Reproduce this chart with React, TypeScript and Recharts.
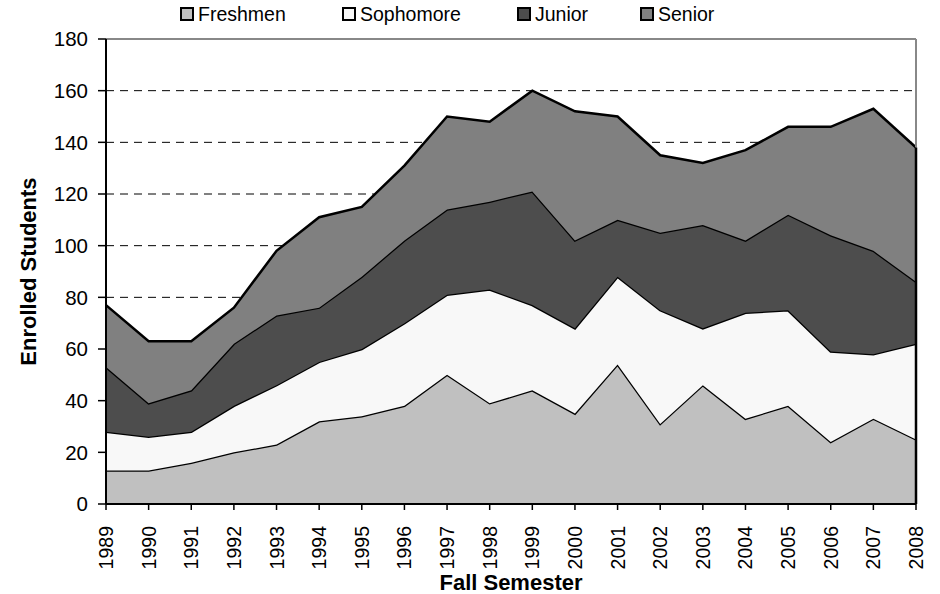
import React from "react";
import { Area, AreaChart, CartesianGrid, ReferenceLine, XAxis, YAxis } from "recharts";

const years = [
    "1989", "1990", "1991", "1992", "1993", "1994", "1995", "1996", "1997", "1998",
    "1999", "2000", "2001", "2002", "2003", "2004", "2005", "2006", "2007", "2008",
];
const freshmen = [13, 13, 16, 20, 23, 32, 34, 38, 50, 39, 44, 35, 54, 31, 46, 33, 38, 24, 33, 25];
const sophomore = [15, 13, 12, 18, 23, 23, 26, 32, 31, 44, 33, 33, 34, 44, 22, 41, 37, 35, 25, 37];
const junior = [25, 13, 16, 24, 27, 21, 28, 32, 33, 34, 44, 34, 22, 30, 40, 28, 37, 45, 40, 24];
const senior = [24, 24, 19, 14, 25, 35, 27, 29, 36, 31, 39, 50, 40, 30, 24, 35, 34, 42, 55, 52];
const yTicks = [0, 20, 40, 60, 80, 100, 120, 140, 160, 180];

const series = [
    { key: "Freshmen", fill: "#c0c0c0" },
    { key: "Sophomore", fill: "#f8f8f8" },
    { key: "Junior", fill: "#4d4d4d" },
    { key: "Senior", fill: "#808080" },
];

const data = years.map((year, i) => ({
    year,
    Freshmen: freshmen[i],
    Sophomore: sophomore[i],
    Junior: junior[i],
    Senior: senior[i],
}));

const lastIdx = years.length - 1;
const lastTotal = freshmen[lastIdx] + sophomore[lastIdx] + junior[lastIdx] + senior[lastIdx];

const FONT = "'Liberation Sans', Arial, sans-serif";

function XTick(props: any) {
    const { x, y, payload } = props;
    const ty = y + 14;
    return (
        <text
            x={x}
            y={ty}
            transform={`rotate(-90, ${x}, ${ty})`}
            textAnchor="end"
            dominantBaseline="central"
            fontSize={19.5}
            fontFamily={FONT}
            fill="#000"
        >
            {payload.value}
        </text>
    );
}

export default function App() {
    return (
        <div style={{ position: "absolute", left: 0, top: 0, width: 940, height: 594, background: "#fff", fontFamily: FONT }}>
            <div style={{ position: "absolute", top: 2, left: 0, width: 940, height: 24 }}>
                {series.map((s, i) => (
                    <div
                        key={s.key}
                        style={{
                            position: "absolute",
                            left: [180, 342, 517, 640][i],
                            top: 0,
                            display: "flex",
                            alignItems: "center",
                            fontSize: 19.5,
                            lineHeight: "24px",
                            color: "#000",
                        }}
                    >
                        <span
                            style={{
                                display: "inline-block",
                                width: 10,
                                height: 10,
                                border: "2px solid #000",
                                background: s.fill,
                                marginRight: 4,
                            }}
                        />
                        {s.key}
                    </div>
                ))}
            </div>
            <AreaChart
                width={940}
                height={594}
                data={data}
                margin={{ top: 39, right: 24, left: 0, bottom: 0 }}
                style={{ position: "absolute", left: 0, top: 0 }}
            >
                <CartesianGrid
                    horizontal
                    vertical={false}
                    stroke="#000"
                    strokeDasharray="8 6"
                    strokeWidth={1}
                />
                <XAxis
                    dataKey="year"
                    height={90}
                    interval={0}
                    tick={<XTick />}
                    tickLine={{ stroke: "#000", strokeWidth: 1.5 }}
                    tickSize={6}
                    axisLine={{ stroke: "#000", strokeWidth: 2 }}
                    label={{
                        content: (p: any) => (
                            <text
                                x={p.viewBox.x + p.viewBox.width / 2}
                                y={p.viewBox.y + 86}
                                textAnchor="middle"
                                fontSize={22}
                                fontWeight="bold"
                                fontFamily={FONT}
                                fill="#000"
                            >
                                Fall Semester
                            </text>
                        ),
                    }}
                />
                <YAxis
                    width={106}
                    domain={[0, 180]}
                    ticks={yTicks}
                    interval={0}
                    tick={{ fontSize: 20.5, fill: "#000", fontFamily: FONT, dx: -8 }}
                    tickLine={{ stroke: "#000", strokeWidth: 1.5 }}
                    tickSize={8}
                    axisLine={{ stroke: "#000", strokeWidth: 2 }}
                    label={{
                        content: (p: any) => {
                            const cx = 28;
                            const cy = p.viewBox.y + p.viewBox.height / 2;
                            return (
                                <text
                                    x={cx}
                                    y={cy}
                                    transform={`rotate(-90, ${cx}, ${cy})`}
                                    textAnchor="middle"
                                    dominantBaseline="central"
                                    fontSize={22}
                                    fontWeight="bold"
                                    fontFamily={FONT}
                                    fill="#000"
                                >
                                    Enrolled Students
                                </text>
                            );
                        },
                    }}
                />
                {series.map((s) => (
                    <Area
                        key={s.key}
                        type="linear"
                        dataKey={s.key}
                        stackId="1"
                        fill={s.fill}
                        fillOpacity={1}
                        stroke="#000"
                        strokeWidth={2.5}
                        isAnimationActive={false}
                    />
                ))}
                <ReferenceLine y={180} stroke="#888" strokeWidth={2} />
                <ReferenceLine
                    segment={[{ x: "2008", y: lastTotal }, { x: "2008", y: 180 }]}
                    stroke="#888"
                    strokeWidth={2}
                />
                <ReferenceLine
                    segment={[{ x: "2008", y: 0 }, { x: "2008", y: lastTotal }]}
                    stroke="#000"
                    strokeWidth={2.5}
                />
            </AreaChart>
        </div>
    );
}
